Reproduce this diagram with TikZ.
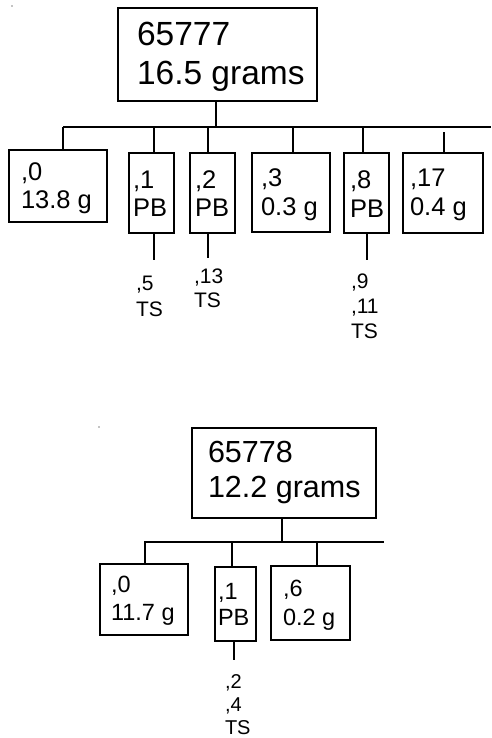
\documentclass[tikz,border=0pt]{standalone}
\usepackage{fontspec}
\setmainfont{Liberation Sans}
\begin{document}
\begin{tikzpicture}[x=1pt,y=-1pt,
  box/.style={draw, line width=1.5pt, inner sep=0pt, outer sep=0pt, anchor=north west},
  txt/.style={anchor=base west, inner sep=0pt, outer sep=0pt},
  conn/.style={line width=1.5pt},
  fA/.style={font=\fontsize{33.5}{40}\selectfont},
  fB/.style={font=\fontsize{25.5}{30}\selectfont},
  fC/.style={font=\fontsize{21}{25}\selectfont},
  fD/.style={font=\fontsize{30.5}{36}\selectfont},
  fE/.style={font=\fontsize{23.5}{28}\selectfont},
  fF/.style={font=\fontsize{20}{24}\selectfont}]
\useasboundingbox[fill=white] (0,0) rectangle (491,738);
% stray dots
\fill (12,6) circle (0.6);
\fill (99,427) circle (0.6);

% ---------- tree 65777 ----------
\node[box, minimum width=199, minimum height=93] (top1) at (118,8) {};
\node[txt,fA] (top1a) at (137,46) {65777};
\node[txt,fA] (top1b) at (137,85) {16.5 grams};
\coordinate (barL1) at (63,127);
\coordinate (barR1) at (491,127);
\draw[conn] (barL1) -- (barR1);
\draw[conn] ([xshift=-1.5pt]top1.south) -- ([xshift=-1.5pt]top1.south |- barL1);

\node[box, minimum width=98, minimum height=72] (b0) at (9,150) {};
\node[txt,fB] at (21,180) {,0};
\node[txt,fB] at (21,208) {13.8 g};

\node[box, minimum width=45, minimum height=80] (b1) at (129,153) {};
\node[txt,fB] at (133,188) {,1};
\node[txt,fB] at (133,216) {PB};

\node[box, minimum width=45, minimum height=80] (b2) at (190,153) {};
\node[txt,fB] at (195,188) {,2};
\node[txt,fB] at (195,216) {PB};

\node[box, minimum width=78, minimum height=79] (b3) at (252,153) {};
\node[txt,fB] at (261,186) {,3};
\node[txt,fB] at (261,215) {0.3 g};

\node[box, minimum width=45, minimum height=80] (b8) at (344,153) {};
\node[txt,fB] at (350,188) {,8};
\node[txt,fB] at (350,217) {PB};

\node[box, minimum width=80, minimum height=80] (b17) at (403,153) {};
\node[txt,fB] at (410,186) {,17};
\node[txt,fB] at (410,215) {0.4 g};

\draw[conn] ([xshift=5pt]b0.north) -- ([xshift=5pt]b0.north |- barL1);
\draw[conn] ([xshift=2.5pt]b1.north) -- ([xshift=2.5pt]b1.north |- barL1);
\draw[conn] ([xshift=-4.5pt]b2.north) -- ([xshift=-4.5pt]b2.north |- barL1);
\draw[conn] ([xshift=2pt]b3.north) -- ([xshift=2pt]b3.north |- barL1);
\draw[conn] ([xshift=-3.5pt]b8.north) -- ([xshift=-3.5pt]b8.north |- barL1);
\coordinate (g17) at (444,132);
\draw[conn] ([xshift=1pt]b17.north) -- (g17);

% sub labels
\coordinate (e1) at (154,260);
\draw[conn] ([xshift=2.5pt]b1.south) -- (e1);
\node[txt,fC] at (136,290) {,5};
\node[txt,fC] at (136,316) {TS};

\coordinate (e2) at (208,258);
\draw[conn] ([xshift=-4.5pt]b2.south) -- (e2);
\node[txt,fC] at (194,283) {,13};
\node[txt,fC] at (194,307) {TS};

\coordinate (e8) at (367,260);
\draw[conn] ([xshift=0.5pt]b8.south) -- (e8);
\node[txt,fC] at (351,288) {,9};
\node[txt,fC] at (351,313) {,11};
\node[txt,fC] at (351,338) {TS};

% ---------- tree 65778 ----------
\node[box, minimum width=184, minimum height=90] (top2) at (192,428) {};
\node[txt,fD] (top2a) at (208,462) {65778};
\node[txt,fD] (top2b) at (208,497) {12.2 grams};
\coordinate (barL2) at (144,542);
\coordinate (barR2) at (384,542);
\draw[conn] (barL2) -- (barR2);
\draw[conn] ([xshift=-2pt]top2.south) -- ([xshift=-2pt]top2.south |- barL2);

\node[box, minimum width=88, minimum height=71] (c0) at (100,564) {};
\node[txt,fE] at (111,592) {,0};
\node[txt,fE] at (111,620) {11.7 g};

\node[box, minimum width=41, minimum height=74] (c1) at (215,567) {};
\node[txt,fE] at (218,599) {,1};
\node[txt,fE] at (218,625) {PB};

\node[box, minimum width=79, minimum height=74] (c6) at (271,566) {};
\node[txt,fE] at (283,596) {,6};
\node[txt,fE] at (283,625) {0.2 g};

\draw[conn] ([xshift=1pt]c0.north) -- ([xshift=1pt]c0.north |- barL2);
\draw[conn] ([xshift=-3.5pt]c1.north) -- ([xshift=-3.5pt]c1.north |- barL2);
\draw[conn] ([xshift=6.5pt]c6.north) -- ([xshift=6.5pt]c6.north |- barL2);

\coordinate (e21) at (234,660);
\draw[conn] ([xshift=-1.5pt]c1.south) -- (e21);
\node[txt,fF] at (225,688) {,2};
\node[txt,fF] at (225,711) {,4};
\node[txt,fF] at (225,734) {TS};
\end{tikzpicture}
\end{document}
